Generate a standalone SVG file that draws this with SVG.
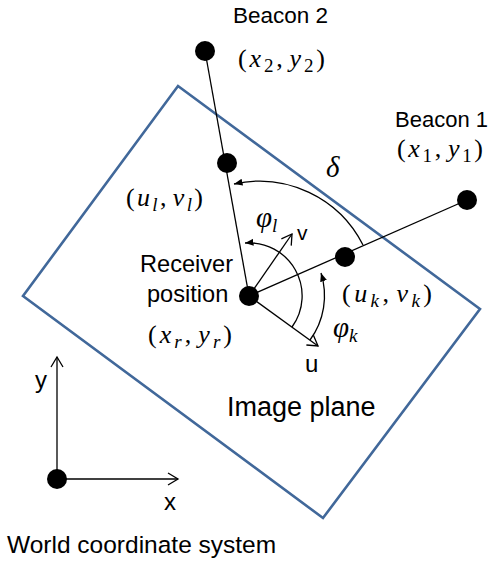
<svg xmlns="http://www.w3.org/2000/svg" width="489" height="563" viewBox="0 0 489 563">
<style>
.lbl{font-family:"Liberation Sans",Arial,sans-serif;fill:#000}
.m{font-family:"Liberation Serif","Times New Roman",serif;font-size:26px;fill:#000}
.g{font-family:"Liberation Serif","Times New Roman",serif;font-size:29px;font-style:italic;fill:#000}
.i{font-style:italic}
.s{font-style:italic;font-size:19px}
.n{font-style:normal;font-size:19px}
.ln{stroke:#000;stroke-width:1.3;fill:none}
.dot{fill:#000}
</style>
<defs>
<marker id="fa" markerUnits="userSpaceOnUse" markerWidth="9" markerHeight="8" refX="8.5" refY="4" orient="auto">
<path d="M0,0.5 L8.5,4 L0,7.5 z" fill="#000"/>
</marker>
<marker id="oa" markerUnits="userSpaceOnUse" markerWidth="14" markerHeight="14" refX="11" refY="7" orient="auto">
<path d="M1,1 L11,7 L1,13" fill="none" stroke="#000" stroke-width="1.3"/>
</marker>
</defs>
<rect width="489" height="563" fill="#fff"/>
<g id="image-plane">
<polygon points="178,86 480,309 323,518 23,296" fill="none" stroke="#41689A" stroke-width="2.6" stroke-linejoin="miter"/>
<text class="lbl" x="227" y="416" font-size="27">Image plane</text>
</g>
<g id="connectors">
<line class="ln" x1="249" y1="296" x2="205" y2="51"/>
<line class="ln" x1="249" y1="296" x2="467" y2="200"/>
<line class="ln" x1="249" y1="296" x2="292" y2="234" marker-end="url(#oa)"/>
<line class="ln" x1="249" y1="296" x2="318" y2="346" marker-end="url(#oa)"/>
<path class="ln" d="M 363 245 A 116 116 0 0 0 234 184" marker-end="url(#fa)"/>
<path class="ln" d="M 292 327 A 53 53 0 0 0 245 243" marker-end="url(#fa)"/>
<path class="ln" d="M 310 340 A 75 75 0 0 0 321 273" marker-end="url(#fa)"/>
<line class="ln" x1="57" y1="479" x2="57" y2="357" marker-end="url(#oa)"/>
<line class="ln" x1="57" y1="479" x2="178" y2="479" marker-end="url(#oa)"/>
</g>
<g id="beacon2">
<circle class="dot" cx="205" cy="51" r="10"/>
<text class="lbl" x="233" y="23" font-size="22.5">Beacon 2</text>
<text class="m" x="238" y="67" textLength="87" lengthAdjust="spacing">(<tspan class="i">x</tspan><tspan class="n" dy="5">2</tspan><tspan dy="-5">,</tspan><tspan class="i" dx="4">y</tspan><tspan class="n" dy="5">2</tspan><tspan dy="-5">)</tspan></text>
</g>
<g id="beacon1">
<circle class="dot" cx="467" cy="200" r="10"/>
<text class="lbl" x="395" y="127" font-size="22">Beacon 1</text>
<text class="m" x="397" y="157" textLength="86" lengthAdjust="spacing">(<tspan class="i">x</tspan><tspan class="n" dy="5">1</tspan><tspan dy="-5">,</tspan><tspan class="i" dx="4">y</tspan><tspan class="n" dy="5">1</tspan><tspan dy="-5">)</tspan></text>
</g>
<g id="point-l">
<circle class="dot" cx="227" cy="163" r="10"/>
<text class="m" x="126" y="206" textLength="77" lengthAdjust="spacing">(<tspan class="i">u</tspan><tspan class="s" dy="5">l</tspan><tspan dy="-5">,</tspan><tspan class="i" dx="4">v</tspan><tspan class="s" dy="5">l</tspan><tspan dy="-5">)</tspan></text>
</g>
<g id="point-k">
<circle class="dot" cx="345" cy="257" r="10"/>
<text class="m" x="342" y="302" textLength="90" lengthAdjust="spacing">(<tspan class="i">u</tspan><tspan class="s" dy="5">k</tspan><tspan dy="-5">,</tspan><tspan class="i" dx="4">v</tspan><tspan class="s" dy="5">k</tspan><tspan dy="-5">)</tspan></text>
</g>
<g id="receiver">
<circle class="dot" cx="249" cy="296" r="10"/>
<text class="lbl" x="140" y="272" font-size="23.6">Receiver</text>
<text class="lbl" x="147" y="302" font-size="23.6">position</text>
<text class="m" x="148" y="343" textLength="84" lengthAdjust="spacing">(<tspan class="i">x</tspan><tspan class="s" dy="5">r</tspan><tspan dy="-5">,</tspan><tspan class="i" dx="4">y</tspan><tspan class="s" dy="5">r</tspan><tspan dy="-5">)</tspan></text>
<text class="lbl" x="297" y="240" font-size="21">v</text>
<text class="lbl" x="305" y="372" font-size="24">u</text>
</g>
<g id="angles">
<text class="g" x="326" y="177">δ</text>
<text class="g" x="256" y="227">φ<tspan class="s" dy="5">l</tspan></text>
<text class="g" x="333" y="337">φ<tspan class="s" dy="5">k</tspan></text>
</g>
<g id="world">
<circle class="dot" cx="57" cy="479" r="10"/>
<text class="lbl" x="35" y="388" font-size="24">y</text>
<text class="lbl" x="164" y="510" font-size="24">x</text>
<text class="lbl" x="7" y="553" font-size="24.5">World coordinate system</text>
</g>
</svg>
